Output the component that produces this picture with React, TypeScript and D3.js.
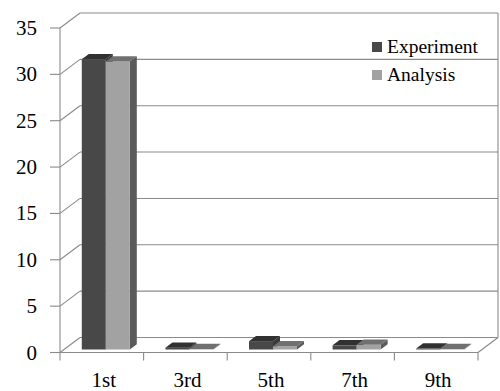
import React from "react";
import * as d3 from "d3";

const categories = ["1st", "3rd", "5th", "7th", "9th"];
const seriesNames = ["Experiment", "Analysis"];
const experiment = [31.3, 0.2, 0.9, 0.45, 0.1];
const analysis = [31.05, 0.05, 0.35, 0.5, 0.05];
const yTicks = [0, 5, 10, 15, 20, 25, 30, 35];

const W = 500;
const H = 391;

// front plane of the 3D box
const x0 = 60;
const x1 = 478;
const yBottom = 352.5;
const yTop = 28;
// depth offset of the back wall
const DX = 20;
const DY = -15;

const palette = [
  { front: "#484848", top: "#313131", side: "#3a3a3a", legend: "#484848" },
  { front: "#a2a2a2", top: "#707070", side: "#5a5a5a", legend: "#a2a2a2" },
];

const grid = "#8a8a8a";
const font = "'Liberation Serif', 'Times New Roman', serif";

export default function App() {
  const y = d3.scaleLinear().domain([0, 35]).range([yBottom, yTop]);
  const xCat = d3.scaleBand<string>().domain(categories).range([x0, x1]).paddingInner(0).paddingOuter(0);
  const inner = d3
    .scaleBand<string>()
    .domain(seriesNames)
    .range([xCat.bandwidth() / 2 - 24, xCat.bandwidth() / 2 + 24]);

  // project (screen x on the front plane, value, depth 0..1)
  const P = (x: number, v: number, z: number) => [x + z * DX, y(v) + z * DY];
  const pts = (arr: number[][]) => arr.map((p) => p.join(",")).join(" ");

  const zFront = 0.2;
  const zBack = 0.55;

  const series = [experiment, analysis];

  const bars: React.ReactNode[] = [];
  categories.forEach((c, ci) => {
    seriesNames.forEach((s, si) => {
      const v = series[si][ci];
      const xl = (xCat(c) as number) + (inner(s) as number);
      const xr = xl + inner.bandwidth();
      const col = palette[si];
      const front = [P(xl, 0, zFront), P(xr, 0, zFront), P(xr, v, zFront), P(xl, v, zFront)];
      const top = [P(xl, v, zFront), P(xr, v, zFront), P(xr, v, zBack), P(xl, v, zBack)];
      const side = [P(xr, 0, zFront), P(xr, 0, zBack), P(xr, v, zBack), P(xr, v, zFront)];
      bars.push(
        <g key={c + s}>
          <polygon points={pts(side)} fill={col.side} />
          <polygon points={pts(front)} fill={col.front} />
          <polygon points={pts(top)} fill={col.top} />
        </g>
      );
    });
  });

  return (
    <svg
      width={W}
      height={H}
      style={{ position: "absolute", left: 0, top: 0, background: "#fff" }}
      fontFamily={font}
    >
      <rect width={W} height={H} fill="#fff" />
      {/* back wall gridlines and left wall diagonals */}
      {yTicks.map((t) => (
        <g key={t}>
          <line x1={x0 + DX} x2={x1 + DX} y1={y(t) + DY} y2={y(t) + DY} stroke={grid} strokeWidth={1.1} />
          <line x1={x0} x2={x0 + DX} y1={y(t)} y2={y(t) + DY} stroke={grid} strokeWidth={1.1} />
          <line x1={x0 - 10} x2={x0} y1={y(t)} y2={y(t)} stroke={grid} strokeWidth={1.1} />
          <text x={37} y={y(t)} fontSize={21} textAnchor="end" dominantBaseline="central" fill="#000">
            {t}
          </text>
        </g>
      ))}
      {/* back wall right edge */}
      <line x1={x1 + DX} x2={x1 + DX} y1={y(35) + DY} y2={y(0) + DY} stroke={grid} strokeWidth={1.1} />
      {/* floor edges */}
      <line x1={x0} x2={x1} y1={y(0)} y2={y(0)} stroke={grid} strokeWidth={1.1} />
      <line x1={x1} x2={x1 + DX} y1={y(0)} y2={y(0) + DY} stroke={grid} strokeWidth={1.1} />
      {/* value axis */}
      <line x1={x0} x2={x0} y1={y(35)} y2={y(0)} stroke={grid} strokeWidth={1.1} />
      {/* category ticks */}
      {[...categories.map((c) => xCat(c) as number), x1].map((xv, i) => (
        <line key={i} x1={xv} x2={xv} y1={y(0)} y2={y(0) + 8} stroke={grid} strokeWidth={1.1} />
      ))}
      {bars}
      {categories.map((c) => (
        <text
          key={c}
          x={(xCat(c) as number) + xCat.bandwidth() / 2 + 2}
          y={387}
          fontSize={21}
          textAnchor="middle"
          fill="#000"
        >
          {c}
        </text>
      ))}
      {/* legend */}
      {seriesNames.map((s, i) => (
        <g key={s} transform={`translate(372, ${42 + i * 28})`}>
          <rect x={0} y={0} width={10} height={10} fill={palette[i].legend} />
          <text x={15} y={11} fontSize={19.5} fill="#000">
            {s}
          </text>
        </g>
      ))}
    </svg>
  );
}
